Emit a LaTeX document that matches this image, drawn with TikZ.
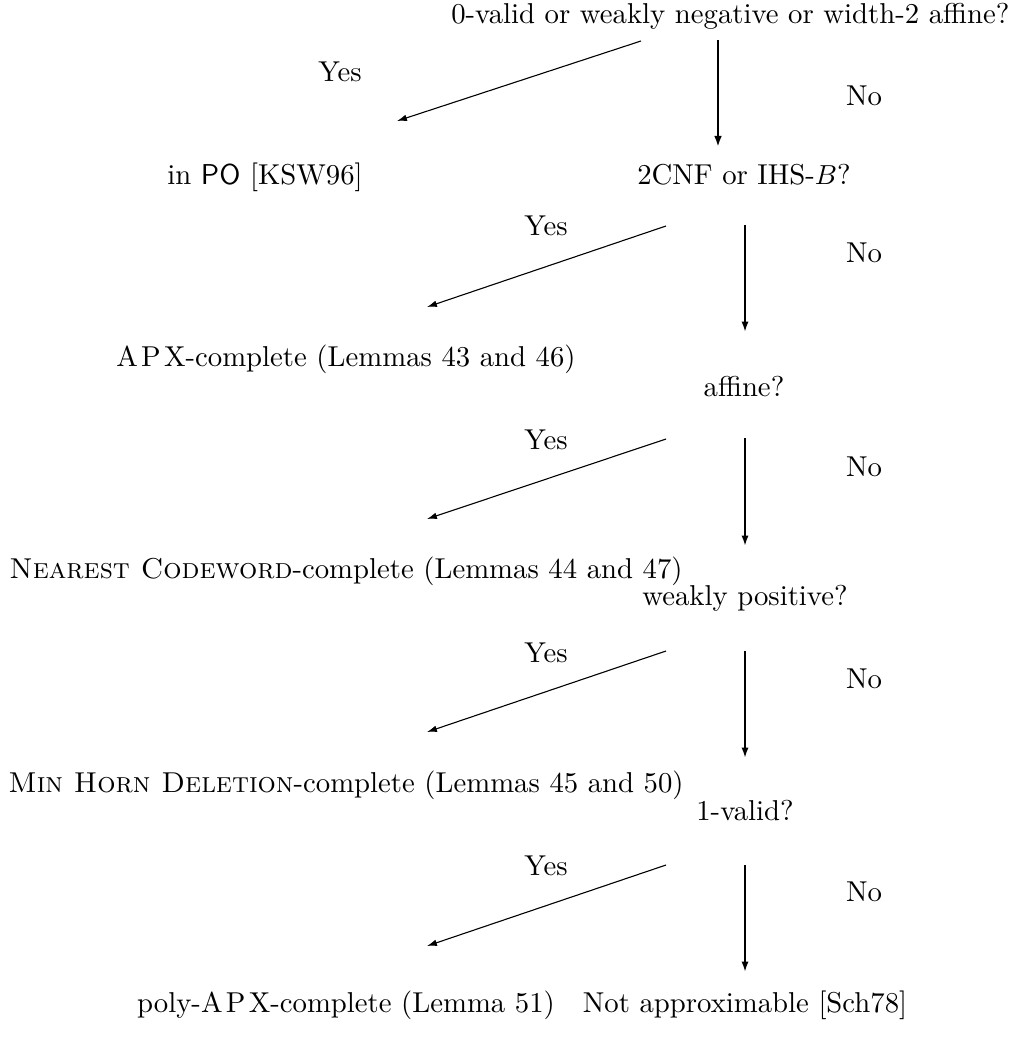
\documentclass[tikz,border=0pt]{standalone}
\usetikzlibrary{arrows.meta}
\newcommand{\apx}{A\kern1.2pt P\kern1.2pt X}
\begin{document}
\begin{tikzpicture}[x=0.3636pt,y=-0.3636pt,
  lbl/.style={inner sep=0pt,anchor=base,font=\fontsize{10.45}{12.5}\selectfont},
  yesarrow/.style={line width=0.4pt,-{Latex[length=3.6pt,width=2.4pt]}},
  noarrow/.style={line width=0.7pt,-{Latex[length=3.8pt,width=2.6pt]}},
  firstarrow/.style={line width=1pt,-{Latex[length=4pt,width=2.8pt]}}]
\useasboundingbox (0,0) rectangle (1013,1040);
% questions
\node[lbl,anchor=base east] (q1) at (1010,24) {0-valid or weakly negative or width-2 affine?};
\node[lbl] (q2) at (744,185) {2CNF or IHS-$B$?};
\node[lbl] (q3) at (744,397) {affine?};
\node[lbl] (q4) at (745,605) {weakly positive?};
\node[lbl] (q5) at (745,820) {1-valid?};
% results
\node[lbl] (r1) at (265,185) {in \textsf{PO} [KSW96]};
\node[lbl] (r2) at (346,366) {\apx-complete (Lemmas 43 and 46)};
\node[lbl] (r3) at (346,578) {\textsc{Nearest Codeword}-complete (Lemmas 44 and 47)};
\node[lbl] (r4) at (346,792) {\textsc{Min Horn Deletion}-complete (Lemmas 45 and 50)};
\node[lbl] (r5) at (346,1012) {poly-\apx-complete (Lemma 51)};
\node[lbl] (r6) at (745,1012) {Not approximable [Sch78]};
% yes / no labels
\node[lbl] (y1) at (340,82) {Yes};
\node[lbl] (y2) at (546,236) {Yes};
\node[lbl] (y3) at (546,449) {Yes};
\node[lbl] (y4) at (546,662) {Yes};
\node[lbl] (y5) at (546,875) {Yes};
\node[lbl] (n1) at (864,106) {No};
\node[lbl] (n2) at (864,263) {No};
\node[lbl] (n3) at (864,476) {No};
\node[lbl] (n4) at (864,688) {No};
\node[lbl] (n5) at (864,901) {No};
% arrow end points
\coordinate (d1s) at (641,41);  \coordinate (d1e) at (397,121);
\coordinate (v1s) at (718,40);  \coordinate (v1e) at (718,147);
\coordinate (d2s) at (666,226); \coordinate (d2e) at (427,307);
\coordinate (v2s) at (745,225); \coordinate (v2e) at (745,332);
\coordinate (d3s) at (666,439); \coordinate (d3e) at (427,519);
\coordinate (v3s) at (745,438); \coordinate (v3e) at (745,546);
\coordinate (d4s) at (666,651); \coordinate (d4e) at (427,732);
\coordinate (v4s) at (745,651); \coordinate (v4e) at (745,758);
\coordinate (d5s) at (666,865); \coordinate (d5e) at (427,946);
\coordinate (v5s) at (745,865); \coordinate (v5e) at (745,972);
% arrows
\draw[yesarrow] (d1s) -- (d1e);
\draw[firstarrow] (v1s) -- (v1e);
\draw[yesarrow] (d2s) -- (d2e);
\draw[noarrow] (v2s) -- (v2e);
\draw[yesarrow] (d3s) -- (d3e);
\draw[noarrow] (v3s) -- (v3e);
\draw[yesarrow] (d4s) -- (d4e);
\draw[noarrow] (v4s) -- (v4e);
\draw[yesarrow] (d5s) -- (d5e);
\draw[noarrow] (v5s) -- (v5e);
\end{tikzpicture}
\end{document}
